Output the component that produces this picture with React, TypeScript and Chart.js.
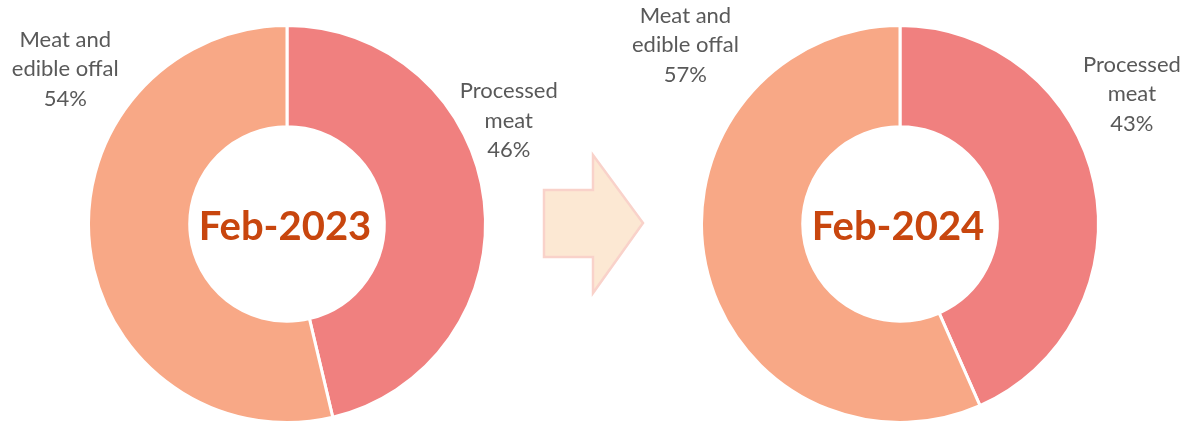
import React, { useEffect, useRef } from "react";
import { Chart, registerables } from "chart.js";

Chart.register(...registerables);

// ---- data ----
const categories = ["Processed meat", "Meat and edible offal"];
const categoryLines = [["Processed", "meat"], ["Meat and", "edible offal"]];
const periods = ["Feb-2023", "Feb-2024"];
const shares2023 = [46.3, 53.7];
const shares2024 = [43.4, 56.6];

// ---- style ----
const sliceColors = ["#F0807F", "#F8A886"];
const labelColor = "#595959";
const centerColor = "#C8460E";
const labelFont = "Lato, 'Open Sans', sans-serif";
const BORDER = 3;
const RADIUS = 198.5;
const CENTER_Y = 224;
const CANVAS_W = 592;
const CANVAS_H = 424;

// label offsets in units of outer radius (per chart, per slice)
const labelOffsets2023 = [[1.117, -0.52], [-1.117, -0.78]];
const labelOffsets2024 = [[1.168, -0.655], [-1.081, -0.9]];

type DonutProps = {
  period: string;
  values: number[];
  offsets: number[][];
  centerX: number;
};

function Donut({ period, values, offsets, centerX }: DonutProps) {
  const ref = useRef<HTMLCanvasElement | null>(null);
  useEffect(() => {
    if (!ref.current) return;
    const side = 2 * RADIUS + BORDER;
    const padding = {
      left: centerX - side / 2,
      right: CANVAS_W - (centerX + side / 2),
      top: CENTER_Y - side / 2,
      bottom: Math.max(0, CANVAS_H - (CENTER_Y + side / 2)),
    };
    const labelPlugin = {
      id: "labels",
      afterDraw(chart: any) {
        const ctx = chart.ctx as CanvasRenderingContext2D;
        const meta = chart.getDatasetMeta(0);
        ctx.save();
        meta.data.forEach((arc: any, i: number) => {
          const p = arc.getProps(["x", "y", "outerRadius"], true);
          const R = p.outerRadius;
          const cx = p.x + offsets[i][0] * R;
          const cy = p.y + offsets[i][1] * R;
          const lines = [...categoryLines[i], `${Math.round(values[i])}%`];
          ctx.fillStyle = labelColor;
          ctx.font = `22px ${labelFont}`;
          ctx.textAlign = "center";
          ctx.textBaseline = "middle";
          const lh = 29.5;
          lines.forEach((t, k) => {
            ctx.fillText(t, cx, cy + (k - (lines.length - 1) / 2) * lh);
          });
        });
        // center text
        const a0 = meta.data[0].getProps(["x", "y"], true);
        ctx.fillStyle = centerColor;
        ctx.font = `bold 40px ${labelFont}`;
        ctx.textAlign = "center";
        ctx.textBaseline = "middle";
        ctx.fillText(period, a0.x - 2, a0.y + 3);
        ctx.restore();
      },
    };
    const chart = new Chart(ref.current, {
      type: "doughnut",
      data: {
        labels: categories,
        datasets: [
          {
            data: values,
            backgroundColor: sliceColors,
            borderColor: "#ffffff",
            borderWidth: BORDER,
          },
        ],
      },
      options: {
        animation: false,
        responsive: false,
        events: [],
        cutout: "49%",
        layout: { padding },
        plugins: {
          legend: { display: false },
          tooltip: { enabled: false },
        },
      },
      plugins: [labelPlugin],
    });
    return () => chart.destroy();
  }, [period, values, offsets, centerX]);
  return <canvas ref={ref} width={CANVAS_W} height={CANVAS_H} style={{ width: CANVAS_W, height: CANVAS_H, display: "block" }} />;
}

export default function App() {
  return (
    <div style={{ position: "fixed", left: 0, top: 0, width: 1184, height: 424, background: "#ffffff", overflow: "hidden" }}>
      <div style={{ position: "absolute", left: 0, top: 0 }}>
        <Donut period={periods[0]} values={shares2023} offsets={labelOffsets2023} centerX={287} />
      </div>
      <div style={{ position: "absolute", left: 592, top: 0 }}>
        <Donut period={periods[1]} values={shares2024} offsets={labelOffsets2024} centerX={308} />
      </div>
      <svg width={1184} height={424} style={{ position: "absolute", left: 0, top: 0, pointerEvents: "none" }}>
        <polygon
          points="544,190 593,190 593,155 643,223 593,293 593,257 544,257"
          fill="#FCE8D3"
          stroke="#F9D2CA"
          strokeWidth={2.5}
          strokeLinejoin="miter"
        />
      </svg>
    </div>
  );
}
